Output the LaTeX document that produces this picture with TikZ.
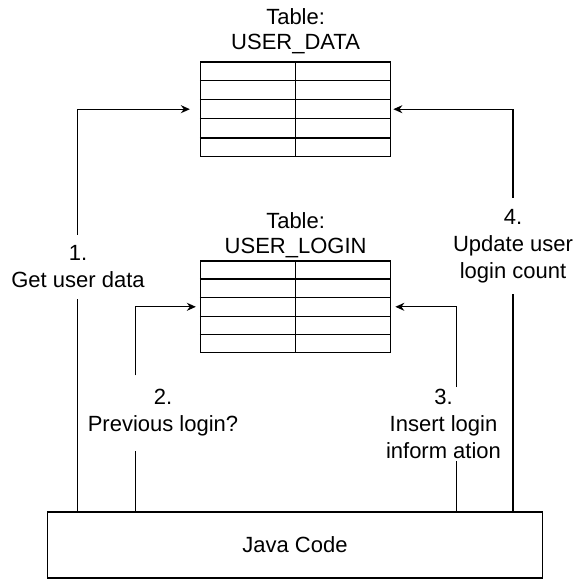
\documentclass[tikz,border=0pt]{standalone}
\usepackage{fontspec}
\setmainfont{Liberation Sans}
\usetikzlibrary{arrows.meta,positioning,calc}

\begin{document}
\begin{tikzpicture}[x=1pt, y=-1pt,
  every node/.style={font=\fontsize{22}{27}\selectfont},
  tbl/.style={draw, line width=1.5pt, minimum width=190pt, inner sep=0pt},
  lbl/.style={align=center, inner xsep=0pt},
  flow/.style={line width=1.3pt},
  arr/.style={flow, -{Stealth[length=9pt,width=8pt]}}]
  \useasboundingbox (0,0) rectangle (586,579);

  % Tables
  \node[tbl, minimum height=94.5pt] (ud) at (295.6,109.2) {};
  \node[tbl, minimum height=91.5pt] (ul) at (295.6,306.8) {};
  \node[lbl, inner sep=0pt, font=\fontsize{22}{25}\selectfont, above=7pt of ud] (udtitle) {Table:\\USER\_DATA};
  \node[lbl, inner sep=0pt, font=\fontsize{22}{25}\selectfont, above=2pt of ul] (ultitle) {Table:\\USER\_LOGIN};
  \foreach \t in {ud,ul} {
    \draw[line width=1.5pt] (\t.north) -- (\t.south);
    \foreach \i in {1,...,4}
      \draw[line width=1.2pt] ($(\t.north west)!\i/5!(\t.south west)$)
        -- ($(\t.north east)!\i/5!(\t.south east)$);
  }

  % Java code
  \node[draw, line width=1.5pt, minimum width=495pt, minimum height=66pt] (java) at (295,545) {Java Code};
  \coordinate (b1) at (77.7,511.7);
  \coordinate (b2) at (135.5,511.7);
  \coordinate (b3) at (456.5,511.7);
  \coordinate (b4) at (513,511.7);

  % Labels
  \node[lbl, inner ysep=11pt] (get) at (78,267) {1.\\Get user data};
  \node[lbl, inner ysep=14pt] (prev) at (163,413) {2.\\Previous login?};
  \node[lbl, inner ysep=2pt] (ins) at (443.5,424) {3.\\Insert login\\inform ation};
  \node[lbl, inner ysep=11pt] (upd) at (513,246) {4.\\Update user\\login count};

  % Connectors
  \draw[flow] (b1) -- (b1 |- get.south);
  \draw[arr, shorten >=10pt] (b1 |- get.north) |- (ud.west);
  \draw[flow] (b2) -- (b2 |- prev.south);
  \draw[arr, shorten >=4pt] (b2 |- prev.north) |- (ul.west);
  \draw[flow] (b3) -- (b3 |- ins.south);
  \draw[arr, shorten >=4pt] (b3 |- ins.north) |- (ul.east);
  \draw[flow] (b4) -- (b4 |- upd.south);
  \draw[arr, shorten >=2pt] (b4 |- upd.north) |- (ud.east);
\end{tikzpicture}
\end{document}
